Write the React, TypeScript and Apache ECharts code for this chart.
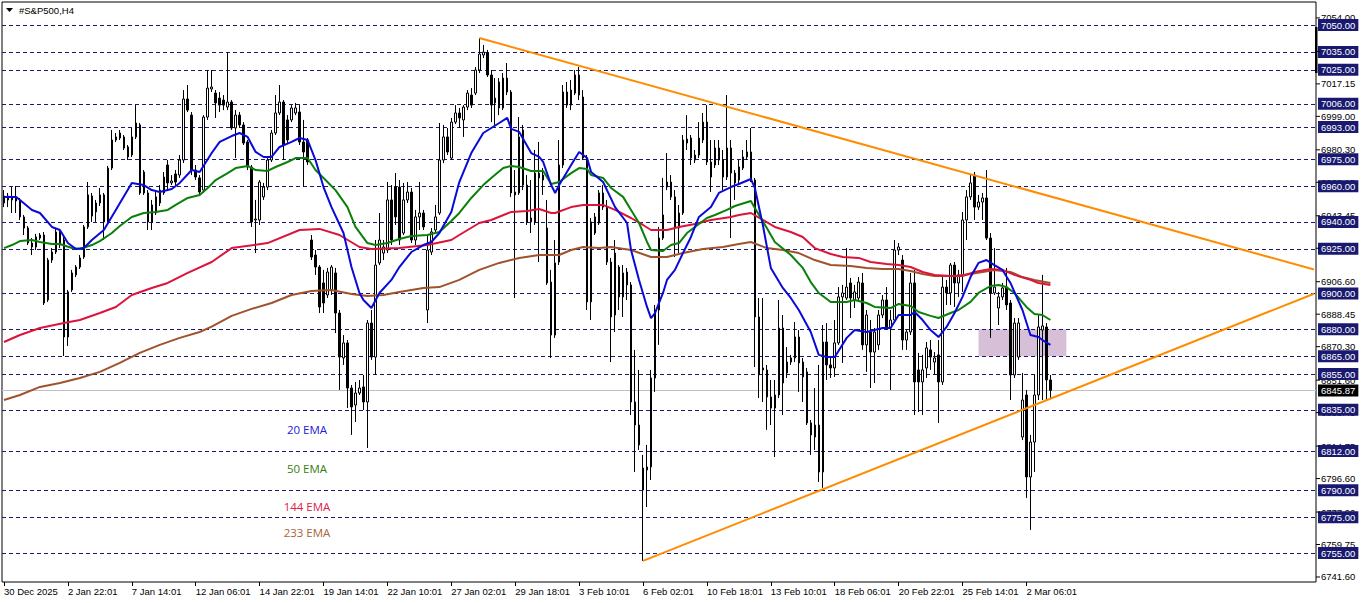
import React, { useEffect, useRef } from 'react';
import * as echarts from 'echarts';

// ---------- data ----------
const tickLabels = ['30 Dec 2025', '2 Jan 22:01', '7 Jan 14:01', '12 Jan 06:01', '14 Jan 22:01', '19 Jan 14:01', '22 Jan 10:01', '27 Jan 02:01', '29 Jan 18:01', '3 Feb 10:01', '6 Feb 02:01', '10 Feb 18:01', '13 Feb 10:01', '18 Feb 06:01', '20 Feb 22:01', '25 Feb 14:01', '2 Mar 06:01'];
const TICK_STEP = 16;
const BAR_SLOTS = 329;

// [open, close, low, high]
const candles = [
  [6950.6, 6954.5, 6948.3, 6957.8], [6954.5, 6952.3, 6948.3, 6956.2], [6952.3, 6953.4, 6945.0, 6959.5], [6953.4, 6951.7, 6945.0, 6960.1],
  [6951.7, 6942.8, 6941.1, 6953.4], [6942.8, 6936.6, 6932.7, 6943.9], [6936.6, 6928.2, 6927.1, 6937.7], [6928.2, 6926.0, 6921.5, 6931.0],
  [6926.0, 6931.6, 6924.3, 6933.3], [6931.0, 6932.7, 6929.9, 6933.8], [6932.7, 6894.7, 6893.6, 6934.4], [6896.4, 6918.7, 6895.3, 6919.9],
  [6918.7, 6923.2, 6917.1, 6925.4], [6923.2, 6934.4, 6922.1, 6936.6], [6934.4, 6927.1, 6925.4, 6936.1], [6929.9, 6875.7, 6865.1, 6932.2],
  [6875.7, 6900.9, 6870.7, 6902.0], [6902.0, 6911.5, 6900.9, 6913.2], [6910.4, 6914.8, 6909.2, 6915.9], [6914.8, 6919.9, 6913.7, 6921.5],
  [6920.4, 6937.2, 6919.3, 6938.3], [6937.2, 6955.1, 6936.1, 6962.3], [6954.5, 6943.3, 6940.0, 6956.2], [6945.6, 6950.6, 6940.0, 6952.3],
  [6950.6, 6955.1, 6948.9, 6959.0], [6955.1, 6940.0, 6929.9, 6956.2], [6940.0, 6970.1, 6938.9, 6971.3], [6970.1, 6985.8, 6969.0, 6991.4],
  [6985.8, 6987.5, 6984.7, 6989.7], [6986.9, 6989.7, 6985.8, 6991.4], [6987.5, 6981.3, 6980.2, 6988.6], [6981.9, 6976.3, 6974.6, 6983.0],
  [6977.4, 6987.5, 6976.3, 6992.5], [6987.5, 6995.3, 6986.3, 7005.3], [6994.2, 6956.2, 6955.1, 6995.3], [6967.9, 6956.2, 6955.1, 6969.0],
  [6956.2, 6940.0, 6935.5, 6957.8], [6940.0, 6949.5, 6935.5, 6952.3], [6945.0, 6954.0, 6943.9, 6957.8], [6950.6, 6957.8, 6948.9, 6960.6],
  [6956.2, 6965.1, 6955.1, 6967.9], [6971.8, 6961.8, 6957.8, 6974.6], [6961.8, 6962.9, 6960.6, 6966.2], [6966.8, 6962.3, 6960.6, 6969.0],
  [6966.2, 6974.6, 6964.6, 6977.4], [6974.6, 7008.7, 6972.9, 7013.7], [7008.7, 7002.5, 7001.4, 7016.5], [6999.7, 6969.0, 6966.2, 7001.4],
  [6969.0, 6965.1, 6963.4, 6971.8], [6964.6, 6956.7, 6955.1, 6966.2], [6957.8, 6998.6, 6956.2, 6999.7], [6998.6, 7014.8, 6997.0, 7024.9],
  [7014.3, 7015.4, 7012.6, 7024.9], [7012.0, 7006.5, 6998.1, 7013.7], [7009.2, 7005.3, 7001.4, 7012.6], [7008.1, 7005.3, 7002.5, 7010.9],
  [7004.2, 7007.0, 7002.5, 7034.9], [7007.0, 6992.5, 6991.4, 7008.1], [6992.5, 6999.7, 6975.7, 7002.5], [6999.7, 6994.2, 6992.5, 7001.4],
  [6994.2, 6984.1, 6983.0, 6995.8], [6984.7, 6970.7, 6969.0, 6985.8], [6970.7, 6940.0, 6937.2, 6971.8], [6941.1, 6941.6, 6922.6, 6952.3],
  [6941.1, 6962.3, 6938.3, 6963.4], [6954.0, 6959.5, 6952.3, 6961.8], [6959.5, 6974.6, 6957.8, 6975.7], [6974.6, 6989.7, 6973.5, 6991.4],
  [6989.7, 7000.9, 6988.6, 7010.9], [7000.9, 7007.0, 6999.7, 7016.5], [7007.0, 6983.0, 6974.6, 7008.1], [6997.0, 6985.8, 6984.1, 6999.7],
  [6997.0, 7003.7, 6995.8, 7005.3], [7000.9, 7003.7, 6999.7, 7006.5], [7001.4, 6984.7, 6983.0, 7005.3], [6984.7, 6979.1, 6959.5, 6997.0],
  [6985.8, 6973.5, 6971.8, 6986.9], [6929.9, 6920.4, 6918.7, 6932.7], [6921.5, 6914.8, 6910.4, 6924.3], [6914.8, 6892.5, 6889.1, 6915.9],
  [6905.9, 6894.7, 6889.1, 6913.2], [6899.2, 6912.0, 6897.5, 6914.3], [6902.0, 6914.8, 6899.2, 6915.9], [6911.5, 6889.1, 6877.9, 6914.3],
  [6889.1, 6864.5, 6846.1, 6890.8], [6864.0, 6872.4, 6860.1, 6876.8], [6872.4, 6847.2, 6836.0, 6874.0], [6847.2, 6836.6, 6821.0, 6848.9],
  [6837.7, 6844.4, 6828.2, 6850.6], [6844.4, 6847.2, 6843.3, 6851.7], [6847.8, 6839.4, 6834.9, 6854.5], [6839.4, 6883.5, 6813.7, 6885.2],
  [6883.5, 6864.5, 6862.9, 6890.8], [6864.5, 6915.9, 6854.5, 6929.9], [6917.1, 6929.9, 6915.9, 6945.0], [6922.6, 6926.0, 6918.7, 6929.9],
  [6924.3, 6952.3, 6922.6, 6962.3], [6952.3, 6929.9, 6927.1, 6960.6], [6959.5, 6942.8, 6938.3, 6967.3], [6959.5, 6929.9, 6927.1, 6963.4],
  [6933.8, 6952.3, 6932.7, 6961.8], [6952.3, 6956.7, 6950.6, 6962.3], [6956.7, 6929.9, 6928.2, 6959.0], [6929.9, 6942.8, 6927.1, 6946.7],
  [6942.8, 6945.0, 6935.5, 6962.3], [6945.0, 6937.2, 6935.5, 6946.7], [6890.8, 6924.3, 6883.5, 6932.7], [6923.2, 6934.4, 6921.5, 6936.6],
  [6935.5, 6942.8, 6934.4, 6949.5], [6945.0, 6974.6, 6943.9, 6995.3], [6974.6, 6987.5, 6972.9, 6994.2], [6987.5, 6979.1, 6977.4, 6992.5],
  [6975.7, 6995.8, 6974.6, 6998.1], [6995.8, 7000.9, 6994.7, 7005.3], [7000.9, 6998.1, 6992.5, 7003.7], [6997.0, 7004.2, 6987.5, 7005.3],
  [7004.2, 7012.0, 7002.5, 7013.7], [7010.9, 7005.3, 7003.7, 7014.8], [7012.0, 7024.9, 7010.9, 7026.6], [7024.9, 7033.8, 7023.2, 7042.8],
  [7033.3, 7034.9, 7031.6, 7038.9], [7034.4, 7022.1, 7021.0, 7036.1], [7022.1, 7005.3, 6995.8, 7024.9], [7006.5, 7009.2, 6994.2, 7020.4],
  [7018.2, 7003.7, 6999.7, 7020.4], [7003.7, 7020.4, 7002.5, 7023.2], [7020.4, 7012.6, 7010.9, 7028.8], [7012.6, 6956.2, 6954.0, 7013.7],
  [6956.7, 6955.1, 6897.5, 6969.0], [6956.2, 6987.5, 6955.1, 6998.6], [6991.4, 6960.6, 6957.8, 6994.2], [6960.6, 6940.0, 6938.3, 6966.2],
  [6940.0, 6942.2, 6933.8, 6963.4], [6940.0, 6967.3, 6938.3, 6980.2], [6967.3, 6964.6, 6917.6, 6984.7], [6966.2, 6963.4, 6955.1, 6970.1],
  [6936.6, 6905.9, 6904.8, 6952.3], [6906.4, 6876.8, 6864.0, 6913.2], [6876.8, 6917.1, 6875.2, 6929.9], [6917.6, 6971.8, 6915.9, 6985.8],
  [6971.8, 7012.6, 6970.1, 7016.5], [7012.6, 7005.3, 7003.7, 7018.2], [7005.3, 7013.7, 7002.5, 7019.3], [7012.0, 7022.1, 7010.9, 7024.9],
  [7022.1, 7010.9, 7008.1, 7026.6], [7009.8, 6975.7, 6974.6, 7013.7], [6975.7, 6895.3, 6890.8, 6977.4], [6895.3, 6940.0, 6885.2, 6942.2],
  [6933.8, 6942.8, 6932.7, 6945.0], [6939.4, 6956.2, 6938.3, 6957.8], [6956.2, 6948.3, 6946.7, 6960.6], [6948.3, 6917.6, 6915.9, 6952.3],
  [6917.6, 6886.9, 6861.7, 6919.9], [6888.0, 6922.6, 6878.5, 6929.9], [6914.8, 6898.1, 6890.8, 6915.9], [6898.1, 6911.5, 6886.9, 6915.9],
  [6912.0, 6904.8, 6896.4, 6914.3], [6904.8, 6839.4, 6832.1, 6906.4], [6839.4, 6826.5, 6800.3, 6868.5], [6826.5, 6815.4, 6812.6, 6857.3],
  [6790.2, 6802.5, 6750.6, 6809.8], [6801.4, 6803.1, 6780.7, 6815.4], [6803.1, 6852.8, 6795.8, 6857.3], [6852.8, 6890.8, 6845.0, 6893.6],
  [6890.8, 6931.0, 6871.3, 6937.2], [6931.0, 6943.9, 6929.9, 6964.6], [6959.5, 6962.3, 6957.8, 6978.5], [6962.3, 6954.0, 6952.3, 6966.2],
  [6954.0, 6936.6, 6920.4, 6957.8], [6936.6, 6945.0, 6922.6, 6949.5], [6945.0, 6985.8, 6943.9, 6988.6], [6986.3, 6984.1, 6980.2, 6999.7],
  [6986.9, 6975.7, 6971.8, 6988.6], [6974.6, 6977.4, 6972.9, 6980.2], [6977.4, 6986.9, 6975.7, 6995.8], [6985.8, 6995.8, 6984.1, 7000.9],
  [6995.8, 6973.5, 6971.8, 7005.3], [6973.5, 6965.1, 6956.7, 6985.8], [6971.8, 6981.3, 6970.1, 6985.8], [6974.6, 6981.3, 6971.8, 6985.8],
  [6974.6, 6965.1, 6957.8, 6980.2], [6965.1, 6981.3, 6963.4, 7010.9], [6981.3, 6967.3, 6931.0, 6985.8], [6967.3, 6961.8, 6952.3, 6969.0],
  [6963.4, 6970.7, 6960.6, 6974.6], [6970.1, 6976.3, 6969.0, 6980.2], [6976.3, 6979.1, 6974.6, 6985.8], [6979.1, 6963.4, 6962.3, 6992.5],
  [6963.4, 6886.9, 6858.9, 6964.6], [6886.9, 6854.5, 6841.6, 6897.5], [6858.4, 6857.3, 6839.4, 6897.5], [6857.3, 6842.2, 6823.8, 6860.1],
  [6842.2, 6836.0, 6826.5, 6851.7], [6836.0, 6843.3, 6808.6, 6851.7], [6843.3, 6880.7, 6841.6, 6896.4], [6880.7, 6850.0, 6832.1, 6888.0],
  [6855.6, 6861.7, 6852.8, 6870.1], [6861.7, 6864.0, 6860.1, 6865.7], [6864.0, 6875.7, 6861.7, 6884.1], [6875.7, 6861.2, 6845.0, 6879.6],
  [6861.7, 6853.4, 6839.4, 6864.0], [6856.2, 6827.7, 6826.5, 6858.4], [6827.7, 6821.0, 6809.8, 6829.3], [6819.8, 6826.5, 6812.6, 6847.2],
  [6826.5, 6800.3, 6794.7, 6860.1], [6800.3, 6872.9, 6791.4, 6882.4], [6872.9, 6860.1, 6851.7, 6883.5], [6860.1, 6858.4, 6852.8, 6864.0],
  [6858.4, 6872.4, 6853.4, 6885.2], [6872.4, 6898.1, 6871.3, 6903.6], [6898.1, 6900.3, 6861.2, 6904.8], [6897.5, 6903.6, 6896.4, 6925.4],
  [6905.9, 6897.5, 6886.3, 6908.7], [6896.4, 6900.9, 6891.9, 6904.8], [6897.5, 6906.4, 6896.4, 6909.2], [6905.9, 6871.3, 6868.5, 6911.5],
  [6871.3, 6888.0, 6856.2, 6890.8], [6878.5, 6867.3, 6847.2, 6885.2], [6867.3, 6878.5, 6850.0, 6880.7], [6871.3, 6888.0, 6868.5, 6890.8],
  [6888.0, 6896.4, 6886.3, 6899.2], [6896.4, 6880.7, 6879.6, 6903.6], [6880.7, 6885.2, 6846.1, 6890.8], [6885.2, 6924.3, 6884.1, 6929.9],
  [6924.3, 6926.0, 6921.5, 6928.2], [6918.7, 6874.0, 6868.5, 6921.5], [6874.0, 6878.5, 6868.5, 6879.6], [6878.5, 6905.9, 6876.8, 6911.5],
  [6905.9, 6850.6, 6832.1, 6913.2], [6857.3, 6850.6, 6833.8, 6866.8], [6850.6, 6857.3, 6832.1, 6865.7], [6858.4, 6869.6, 6852.8, 6872.9],
  [6868.5, 6864.5, 6857.3, 6874.0], [6861.7, 6864.0, 6854.5, 6867.3], [6865.7, 6850.6, 6827.7, 6874.0], [6850.6, 6903.6, 6848.9, 6909.2],
  [6903.6, 6900.3, 6893.6, 6907.6], [6900.3, 6915.9, 6893.6, 6917.1], [6915.9, 6905.9, 6892.5, 6917.6], [6905.9, 6910.4, 6898.1, 6913.2],
  [6910.4, 6941.1, 6900.9, 6945.6], [6941.1, 6954.0, 6929.9, 6957.8], [6954.0, 6961.8, 6952.3, 6966.2], [6966.2, 6948.3, 6941.1, 6967.9],
  [6948.3, 6951.1, 6946.7, 6955.1], [6951.1, 6953.4, 6941.1, 6956.2], [6953.4, 6931.0, 6929.9, 6969.0], [6931.0, 6900.3, 6875.2, 6933.8],
  [6900.3, 6903.6, 6899.2, 6925.4], [6891.9, 6898.1, 6882.4, 6900.9], [6898.1, 6903.1, 6896.4, 6905.9], [6903.6, 6893.6, 6890.8, 6914.3],
  [6894.7, 6854.5, 6840.5, 6896.4], [6854.5, 6883.5, 6852.8, 6886.3], [6864.5, 6883.5, 6862.9, 6886.3], [6819.8, 6840.5, 6818.1, 6855.6],
  [6843.3, 6797.5, 6785.8, 6846.1], [6797.5, 6817.0, 6767.9, 6821.0], [6817.0, 6843.3, 6800.3, 6854.5], [6843.3, 6881.3, 6840.5, 6888.0],
  [6879.6, 6881.9, 6840.5, 6910.4], [6881.3, 6851.7, 6840.5, 6883.5], [6851.7, 6845.87, 6841.6, 6854.5],
];

// EMA readings: [bar index, value]
const ema20 = [[0, 6954.0], [3, 6954.0], [4, 6952.3], [7, 6946.7], [9, 6945.0], [12, 6937.2], [14, 6935.5], [16, 6928.2], [18, 6924.9], [20, 6925.4], [22, 6929.9], [25, 6935.5], [28, 6946.7], [32, 6961.8], [35, 6960.6], [37, 6957.8], [39, 6956.7], [42, 6958.4], [44, 6961.8], [47, 6969.0], [49, 6967.9], [52, 6978.5], [54, 6984.7], [57, 6988.0], [59, 6989.7], [61, 6987.5], [63, 6979.1], [65, 6976.3], [67, 6976.3], [69, 6981.9], [72, 6984.7], [74, 6986.9], [76, 6985.8], [78, 6974.6], [80, 6959.5], [82, 6948.3], [85, 6933.8], [87, 6914.8], [89, 6900.3], [90, 6896.4], [92, 6891.9], [94, 6900.3], [97, 6907.6], [99, 6914.8], [102, 6923.2], [105, 6927.1], [107, 6928.8], [109, 6933.8], [112, 6945.6], [114, 6962.3], [117, 6978.5], [120, 6989.7], [122, 6992.5], [124, 6995.3], [126, 6998.1], [127, 6992.0], [129, 6990.3], [132, 6978.5], [134, 6976.3], [135, 6973.5], [137, 6960.6], [138, 6956.2], [139, 6960.6], [142, 6971.8], [144, 6979.1], [146, 6975.7], [147, 6967.9], [150, 6962.3], [153, 6948.3], [156, 6939.4], [157, 6924.3], [159, 6907.6], [161, 6892.5], [162, 6886.3], [163, 6889.1], [165, 6900.3], [166, 6907.6], [168, 6913.2], [170, 6922.6], [172, 6931.6], [174, 6942.8], [177, 6948.3], [179, 6956.2], [182, 6959.5], [184, 6961.2], [187, 6964.0], [188, 6959.0], [190, 6938.3], [192, 6914.3], [195, 6903.1], [197, 6897.5], [199, 6890.8], [202, 6878.5], [204, 6865.7], [206, 6864.5], [208, 6864.5], [211, 6875.2], [213, 6879.6], [216, 6878.5], [220, 6880.7], [222, 6880.7], [224, 6888.0], [227, 6888.0], [228, 6889.7], [230, 6885.2], [232, 6879.6], [234, 6875.7], [236, 6881.3], [238, 6889.1], [240, 6898.1], [242, 6909.2], [244, 6917.1], [246, 6918.7], [248, 6915.9], [250, 6913.2], [252, 6905.9], [255, 6890.8], [257, 6876.8], [259, 6875.7], [260, 6874.0], [262, 6871.3]];
const ema50 = [[0, 6925.4], [2, 6927.1], [4, 6929.3], [7, 6929.9], [9, 6928.8], [12, 6927.7], [14, 6927.7], [17, 6925.4], [19, 6924.9], [22, 6927.1], [24, 6929.3], [27, 6933.8], [29, 6937.7], [32, 6942.8], [35, 6945.0], [38, 6945.6], [41, 6946.7], [43, 6949.5], [46, 6953.4], [49, 6955.1], [51, 6959.0], [53, 6963.4], [56, 6967.3], [58, 6970.1], [61, 6971.3], [63, 6969.0], [66, 6968.5], [68, 6970.7], [71, 6973.5], [73, 6975.7], [76, 6975.7], [78, 6969.0], [81, 6962.3], [83, 6957.8], [86, 6948.3], [88, 6937.2], [91, 6928.2], [93, 6927.1], [96, 6928.2], [99, 6930.5], [102, 6932.1], [106, 6932.7], [109, 6934.4], [112, 6940.5], [114, 6945.0], [117, 6953.4], [120, 6960.6], [122, 6964.6], [125, 6970.1], [127, 6971.3], [129, 6970.7], [132, 6968.5], [135, 6968.5], [137, 6961.2], [139, 6962.3], [142, 6967.3], [144, 6970.1], [146, 6969.6], [147, 6966.2], [150, 6964.6], [152, 6959.0], [155, 6954.0], [157, 6946.7], [159, 6939.4], [161, 6928.8], [162, 6924.3], [165, 6923.8], [167, 6927.1], [169, 6928.2], [171, 6933.8], [173, 6937.2], [176, 6942.2], [178, 6943.9], [181, 6946.7], [183, 6948.9], [187, 6951.7], [188, 6947.8], [191, 6936.6], [193, 6928.8], [197, 6921.5], [200, 6914.3], [202, 6906.4], [204, 6900.3], [207, 6895.3], [211, 6895.3], [213, 6896.4], [216, 6894.7], [218, 6892.5], [222, 6891.9], [224, 6894.2], [227, 6893.0], [229, 6889.7], [232, 6887.5], [234, 6886.3], [237, 6889.1], [239, 6890.8], [242, 6895.3], [244, 6900.3], [247, 6904.2], [249, 6904.8], [251, 6903.6], [253, 6900.3], [256, 6892.5], [258, 6888.6], [260, 6888.0], [262, 6885.2]];
const ema144 = [[0, 6872.9], [4, 6876.8], [9, 6880.7], [15, 6883.5], [19, 6885.2], [24, 6889.1], [28, 6892.5], [32, 6899.2], [37, 6903.1], [41, 6905.9], [46, 6911.5], [52, 6917.6], [57, 6925.4], [66, 6928.2], [74, 6935.5], [79, 6936.1], [84, 6932.7], [89, 6926.0], [92, 6924.9], [99, 6925.4], [106, 6927.1], [112, 6929.9], [114, 6932.7], [119, 6939.4], [122, 6941.1], [127, 6945.6], [131, 6946.1], [134, 6947.2], [137, 6945.0], [138, 6945.0], [142, 6948.3], [145, 6949.5], [150, 6949.5], [153, 6946.7], [157, 6942.2], [160, 6938.3], [162, 6935.5], [166, 6935.5], [169, 6937.2], [173, 6938.9], [177, 6941.1], [182, 6942.8], [184, 6943.9], [187, 6945.0], [190, 6941.1], [193, 6937.2], [197, 6934.4], [200, 6931.6], [203, 6925.4], [207, 6922.1], [210, 6920.4], [214, 6919.9], [217, 6917.6], [221, 6916.5], [224, 6915.9], [227, 6914.8], [230, 6912.0], [233, 6910.4], [237, 6909.8], [240, 6909.8], [243, 6912.0], [247, 6913.7], [250, 6913.2], [253, 6910.4], [257, 6907.6], [259, 6905.9], [262, 6904.8]];
const ema233 = [[0, 6840.5], [4, 6843.3], [9, 6847.8], [14, 6850.0], [19, 6852.8], [24, 6856.2], [29, 6861.2], [34, 6866.8], [39, 6871.3], [44, 6875.2], [49, 6878.5], [52, 6881.5], [57, 6887.5], [62, 6891.4], [67, 6894.7], [72, 6899.2], [77, 6901.4], [82, 6902.0], [87, 6899.7], [91, 6898.6], [95, 6899.2], [99, 6900.9], [105, 6903.1], [109, 6903.6], [114, 6907.6], [119, 6913.2], [124, 6917.1], [129, 6919.9], [134, 6921.5], [139, 6921.5], [142, 6924.3], [145, 6926.0], [149, 6925.4], [152, 6926.0], [157, 6924.3], [162, 6920.4], [166, 6920.4], [170, 6922.6], [175, 6924.9], [180, 6926.0], [184, 6927.7], [187, 6928.8], [191, 6925.4], [195, 6924.3], [199, 6922.6], [203, 6918.7], [207, 6915.9], [212, 6915.4], [216, 6914.3], [220, 6913.7], [224, 6913.7], [227, 6912.6], [230, 6910.9], [233, 6909.8], [238, 6909.8], [242, 6910.9], [245, 6912.0], [248, 6913.2], [252, 6912.0], [255, 6909.2], [258, 6907.6], [262, 6905.9]];

const levelPrices = [7050, 7035, 7025, 7006, 6993, 6975, 6960, 6940, 6925, 6900, 6880, 6865, 6855, 6835, 6812, 6790, 6775, 6755];
const axisTicks = [7054.0, 7035.3, 7017.15, 6999.0, 6980.3, 6962.15, 6943.45, 6925.3, 6906.6, 6888.45, 6870.3, 6851.6, 6833.45, 6814.75, 6796.6, 6777.9, 6759.75, 6741.6];
const lastPrice = 6845.87;
const upperTrend = [[119, 7042.8], [328, 6913.4]];
const lowerTrend = [[160, 6750.6], [328, 6899.9]];
const zoneBars = [244, 266];
const zonePrices = [6880, 6865];
const emaNames = ['20 EMA', '50 EMA', '144 EMA', '233 EMA'];
const emaColors = ['#0a0ad8', '#0a800a', '#dc143c', '#a0522d'];
const emaLabelColors = ['#2020d8', '#3a7d10', '#e02048', '#a8653a'];

const Y_MIN = 6738.8;
const Y_MAX = 7062.9;
const NAVY = '#191970';
const FONT = 'Liberation Sans';

export default function App() {
  const ref = useRef<HTMLDivElement>(null);

  useEffect(() => {
    const el = ref.current;
    if (!el) return;
    const chart = echarts.init(el, null, { renderer: 'svg' });

    const categories = Array.from({ length: BAR_SLOTS }, (_, i) =>
      i % TICK_STEP === 0 && i / TICK_STEP < tickLabels.length ? tickLabels[i / TICK_STEP] : String(i)
    );
    const showTick = (i: number) => i % TICK_STEP === 0 && i / TICK_STEP < tickLabels.length;

    const emaSeries = [ema233, ema144, ema50, ema20].map((d, j) => {
      const idx = 3 - j;
      return {
        type: 'line',
        name: emaNames[idx],
        data: d,
        showSymbol: false,
        symbol: 'none',
        z: 3,
        lineStyle: { color: emaColors[idx], width: 2 },
        itemStyle: { color: emaColors[idx] },
      };
    });

    const option: any = {
      animation: false,
      backgroundColor: '#ffffff',
      grid: { left: 2, top: 2, right: 46, bottom: 21, show: true, borderColor: '#000', borderWidth: 1, backgroundColor: '#fff' },
      xAxis: {
        type: 'category',
        data: categories,
        boundaryGap: true,
        axisLine: { show: false },
        axisTick: { show: true, interval: showTick, alignWithLabel: true, length: 4, lineStyle: { color: '#000' } },
        axisLabel: { interval: showTick, align: 'left', margin: 4, fontSize: 9.5, fontFamily: FONT, color: '#000' },
        splitLine: { show: false },
      },
      yAxis: {
        type: 'value',
        position: 'right',
        min: Y_MIN,
        max: Y_MAX,
        show: false,
        scale: true,
      },
      series: [
        {
          type: 'line',
          data: [],
          markArea: {
            silent: true,
            z: 1,
            itemStyle: { color: '#d8bfd8' },
            data: [[{ coord: [zoneBars[0], zonePrices[0]] }, { coord: [zoneBars[1], zonePrices[1]] }]],
          },
          markLine: {
            silent: true,
            z: 1,
            symbol: 'none',
            lineStyle: { color: NAVY, type: [4, 3], width: 1 },
            label: { show: false },
            data: levelPrices.map((v) => ({ yAxis: v })),
          },
        },
        {
          type: 'line',
          data: [],
          markLine: {
            silent: true,
            z: 1,
            symbol: 'none',
            lineStyle: { color: '#c0c0c0', type: 'solid', width: 1 },
            label: { show: false },
            data: [{ yAxis: lastPrice }],
          },
        },
        {
          type: 'candlestick',
          data: candles,
          barWidth: 2,
          z: 2,
          itemStyle: { color: '#ffffff', color0: '#000000', borderColor: '#000000', borderColor0: '#000000', borderWidth: 1 },
        },
        ...emaSeries,
        {
          type: 'line',
          data: [],
          markLine: {
            silent: true,
            z: 4,
            symbol: 'none',
            lineStyle: { color: '#ff8c00', type: 'solid', width: 2 },
            label: { show: false },
            data: [
              [{ coord: upperTrend[0] }, { coord: upperTrend[1] }],
              [{ coord: lowerTrend[0] }, { coord: lowerTrend[1] }],
            ],
          },
        },
        {
          type: 'line',
          data: [],
          markLine: {
            silent: true,
            z: 6,
            symbol: 'none',
            lineStyle: { color: 'rgba(0,0,0,0)', width: 0 },
            label: { show: true, position: 'end', distance: 5, color: '#000', fontSize: 9.5, fontFamily: FONT, formatter: (p: any) => Number(p.value).toFixed(2) },
            data: axisTicks.map((v) => ({ yAxis: v })),
          },
        },
        {
          type: 'line',
          data: [],
          markLine: {
            silent: true,
            z: 7,
            symbol: 'none',
            lineStyle: { color: 'rgba(0,0,0,0)', width: 0 },
            label: { show: true, position: 'end', distance: 2, color: '#fff', backgroundColor: NAVY, padding: [1, 3, 1, 3], fontSize: 9.5, fontFamily: FONT, formatter: (p: any) => Number(p.value).toFixed(2) },
            data: levelPrices.map((v) => ({ yAxis: v })),
          },
        },
        {
          type: 'line',
          data: [],
          markLine: {
            silent: true,
            z: 8,
            symbol: 'none',
            lineStyle: { color: 'rgba(0,0,0,0)', width: 0 },
            label: { show: true, position: 'end', distance: 2, color: '#fff', backgroundColor: '#000', padding: [1, 3, 1, 3], fontSize: 9.5, fontFamily: FONT, formatter: () => lastPrice.toFixed(2) },
            data: [{ yAxis: lastPrice }],
          },
        },
      ],
    };

    chart.setOption(option);

    const frameRight = 1316;
    const tickMarks = axisTicks.map((v) => {
      const y = chart.convertToPixel({ yAxisIndex: 0 }, v) as number;
      return { type: 'line', shape: { x1: frameRight, y1: y, x2: frameRight + 4, y2: y }, style: { stroke: '#000', lineWidth: 1 }, z: 10 };
    });
    const emaLabelY = [429, 468, 506, 532];
    const emaTexts = emaNames.map((t, i) => ({
      type: 'text',
      x: 307,
      y: emaLabelY[i],
      z: 10,
      style: { text: t, fill: emaLabelColors[i], font: '11.5px "Open Sans"', textAlign: 'center', textVerticalAlign: 'middle' },
    }));

    chart.setOption({
      graphic: {
        elements: [
          { type: 'polygon', shape: { points: [[6, 8], [13, 8], [9.5, 12]] }, style: { fill: '#000' }, z: 10 },
          { type: 'text', x: 19, y: 10, z: 10, style: { text: '#S&P500,H4', fill: '#000', font: `9.5px "${FONT}"`, textVerticalAlign: 'middle' } },
          { type: 'rect', shape: { x: 1315, y: 27, width: 2.5, height: 46 }, style: { fill: '#000' }, z: 10 },
          ...tickMarks,
          ...emaTexts,
        ],
      },
    });

    return () => chart.dispose();
  }, []);

  return <div ref={ref} style={{ position: 'absolute', left: 0, top: 0, width: 1362, height: 603, background: '#fff' }} />;
}
